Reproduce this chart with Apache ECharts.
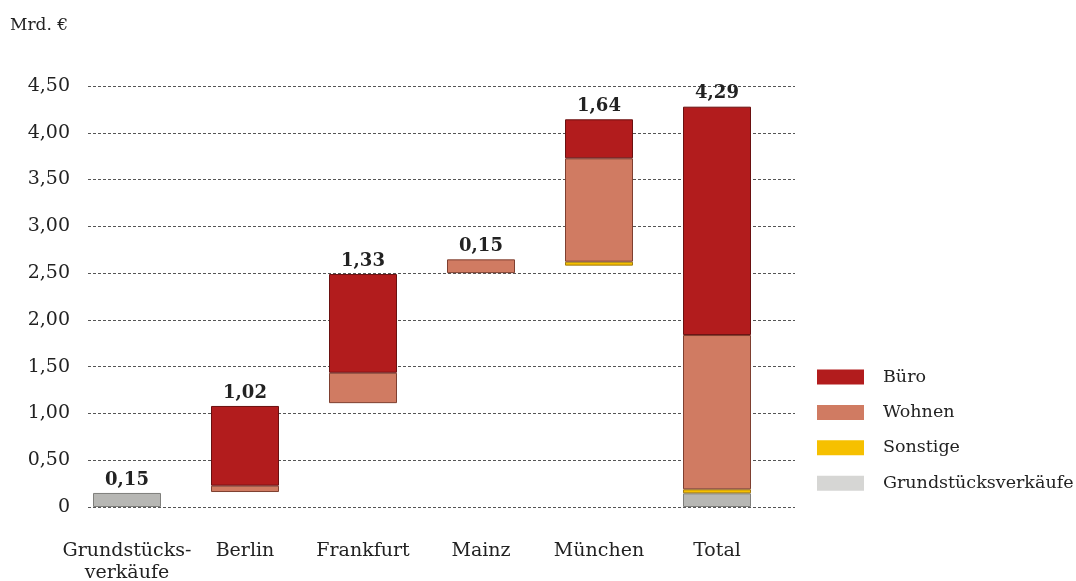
<!DOCTYPE html>
<html><head><meta charset="utf-8">
<script src="https://cdn.jsdelivr.net/npm/echarts@6/dist/echarts.min.js"></script>
<style>html,body{margin:0;padding:0;background:#fff}#c{width:1076px;height:581px}</style>
</head><body><div id="c"></div>
<script>
const categories = ['Grundstücks-\nverkäufe', 'Berlin', 'Frankfurt', 'Mainz', 'München', 'Total'];
const valueLabels = ['0,15', '1,02', '1,33', '0,15', '1,64', '4,29'];
const base     = [0, 0.16, 1.11, 2.50, 2.58, 0];
const grund    = [0.15, 0, 0, 0, 0, 0.146];
const sonstige = [0, 0, 0, 0, 0.042, 0.043];
const wohnen   = [0, 0.068, 0.325, 0.147, 1.105, 1.649];
const buero    = [0, 0.852, 1.055, 0, 0.417, 2.441];
const yMin = 0, yMax = 4.5, yStep = 0.5;

const FONT = 'DejaVu Serif';
const nz = a => a.map(v => v === 0 ? '-' : v);
const chart = echarts.init(document.getElementById('c'), null, {renderer: 'canvas'});
const grid0 = {left: 68, right: 300, top: 86, bottom: 74, outerBoundsMode: 'none', containLabel: false};
const grid1 = {left: 88, right: 281, top: 86, bottom: 74, outerBoundsMode: 'none', containLabel: false};
function barSeries(name, data, color, border) {
  return {
    name, type: 'bar', stack: 'a', xAxisIndex: 0, yAxisIndex: 0,
    data: nz(data), barWidth: 68,
    itemStyle: {color, borderColor: border, borderWidth: 1},
    emphasis: {disabled: true}
  };
}
chart.setOption({
  animation: false,
  textStyle: {fontFamily: FONT},
  title: {text: 'Mrd. €', left: 5, top: 12, textStyle: {fontFamily: FONT, fontSize: 17, fontWeight: 'normal', color: '#222'}},
  grid: [grid0, grid1],
  xAxis: [
    {type: 'category', gridIndex: 0, data: categories,
     axisLine: {show: false}, axisTick: {show: false},
     axisLabel: {fontFamily: FONT, fontSize: 19, color: '#222', margin: 33, lineHeight: 22, interval: 0}},
    {type: 'category', gridIndex: 1, data: categories, show: false}
  ],
  yAxis: [
    {type: 'value', gridIndex: 0, min: yMin, max: yMax, interval: yStep, show: false, splitLine: {show: false}},
    {type: 'value', gridIndex: 1, min: yMin, max: yMax, interval: yStep,
     axisLine: {show: false}, axisTick: {show: false},
     axisLabel: {fontFamily: FONT, fontSize: 19, color: '#222', margin: 18,
                 formatter: v => v === 0 ? '0' : v.toFixed(2).replace('.', ',')},
     splitLine: {show: true, lineStyle: {color: '#555', type: [3, 2], width: 1}}}
  ],
  legend: {
    orient: 'vertical', left: 817, top: 368, padding: 0, itemWidth: 47, itemHeight: 15, itemGap: 17.4,
    icon: 'rect', selectedMode: false,
    textStyle: {fontFamily: FONT, fontSize: 17.5, color: '#222', padding: [0, 0, 0, 14]},
    itemStyle: {borderWidth: 0},
    data: [
      {name: 'Büro'},
      {name: 'Wohnen'},
      {name: 'Sonstige'},
      {name: 'Grundstücksverkäufe', itemStyle: {color: '#d6d6d4', borderWidth: 0}}
    ]
  },
  series: [
    {name: 'base', type: 'bar', stack: 'a', data: base, barWidth: 68,
     itemStyle: {color: 'transparent'}, emphasis: {disabled: true}, silent: true},
    barSeries('Grundstücksverkäufe', grund, '#b7b7b4', '#7f7f7c'),
    barSeries('Sonstige', sonstige, '#f6c000', '#a07a10'),
    barSeries('Wohnen', wohnen, '#d07b62', '#7e3f30'),
    barSeries('Büro', buero, '#b21c1d', '#6a1010'),
    {name: 'labels', type: 'bar', stack: 'a', data: categories.map(() => 0), barWidth: 68,
     itemStyle: {color: 'transparent'}, silent: true,
     label: {show: true, position: 'top', distance: 4, fontFamily: FONT, fontWeight: 'bold', fontSize: 18, color: '#222',
             formatter: p => valueLabels[p.dataIndex]}}
  ]
});
</script></body></html>
